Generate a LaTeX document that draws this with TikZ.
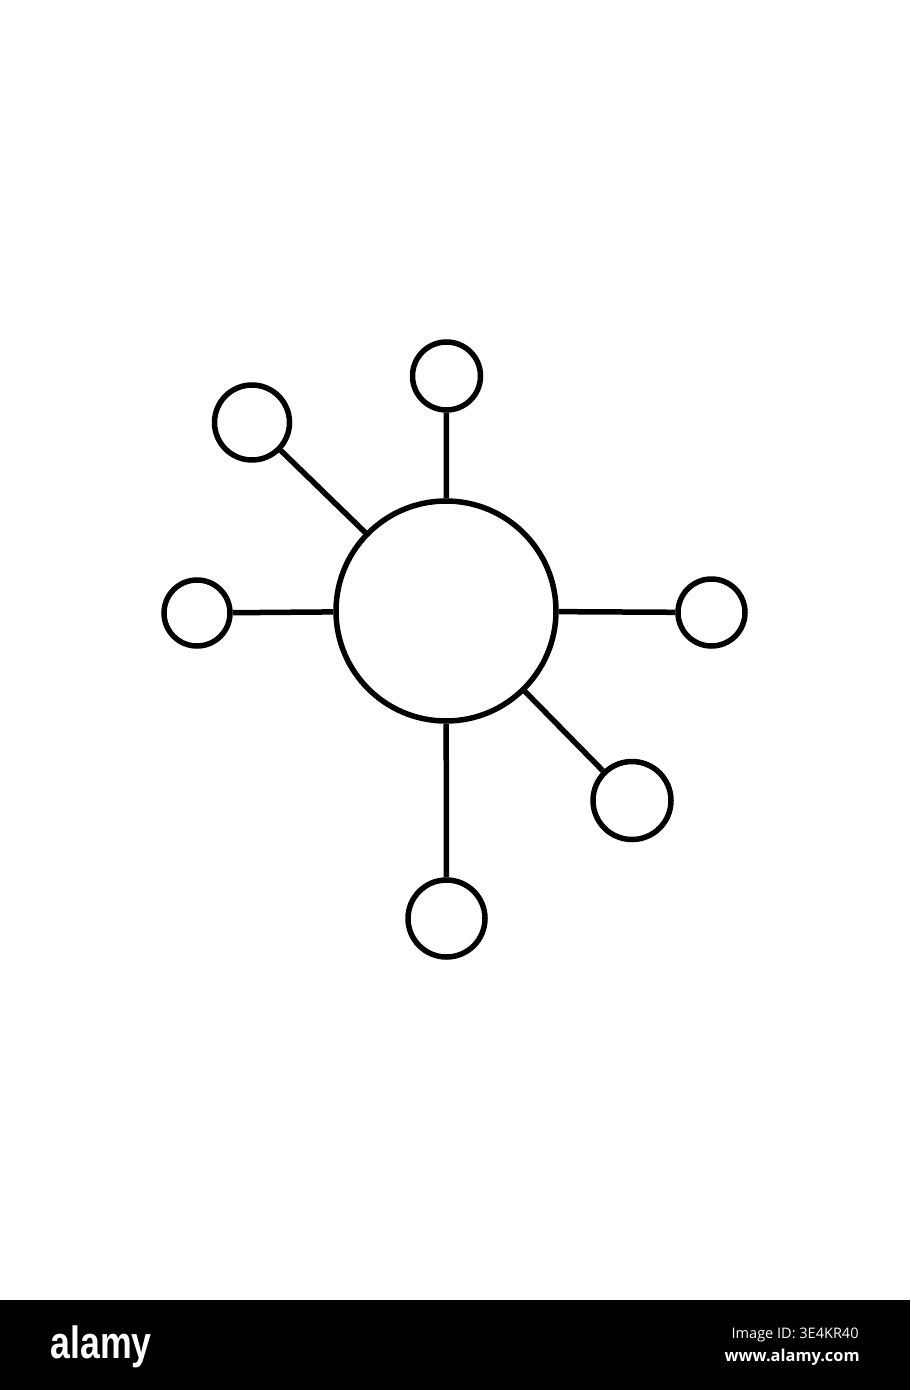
\documentclass[tikz,border=0pt]{standalone}
\usepackage{fontspec}
\setmainfont{Open Sans}
\newfontfamily\logofont{Liberation Sans}
\begin{document}
\begin{tikzpicture}[x=0.5pt,y=-0.5pt,
  hubline/.style={line width=2.75pt,draw=black},
  bubble/.style={circle,draw=black,line width=2.75pt,fill=white,inner sep=0pt}]
\useasboundingbox (0,0) rectangle (910,1390);
\fill[white] (0,0) rectangle (910,1300);
\fill[black] (0,1300) rectangle (910,1390);
% nodes
\node[bubble,minimum size=110pt] (hub) at (446,611) {};
\node[bubble,minimum size=34pt] (top) at (446.5,376) {};
\node[bubble,minimum size=37.5pt] (ul) at (252,422.5) {};
\node[bubble,minimum size=33pt] (lft) at (197,613) {};
\node[bubble,minimum size=33.5pt] (rgt) at (711.5,612.5) {};
\node[bubble,minimum size=39pt] (lr) at (632,800.5) {};
\node[bubble,minimum size=38.5pt] (bot) at (446.5,918.5) {};
% connectors
\draw[hubline] (hub) -- (top);
\draw[hubline] (hub) -- (ul);
\draw[hubline] (hub) -- (lft);
\draw[hubline] (hub) -- (rgt);
\draw[hubline] (hub) -- (lr);
\draw[hubline] (hub) -- (bot);
% footer
\node[anchor=base west,inner sep=0pt,text=white] (logo) at (50,1358)
  {\scalebox{0.79}[1]{\logofont\bfseries\fontsize{22.6}{24}\selectfont alamy}};
\node[anchor=base east,inner sep=0pt,text=white] (imgid) at (859,1338)
  {\resizebox{63.5pt}{!}{Image ID: 3E4KR40}};
\node[anchor=base east,inner sep=0pt,text=white] (www) at (860,1361)
  {\resizebox{67.5pt}{!}{\bfseries www.alamy.com}};
\end{tikzpicture}
\end{document}
